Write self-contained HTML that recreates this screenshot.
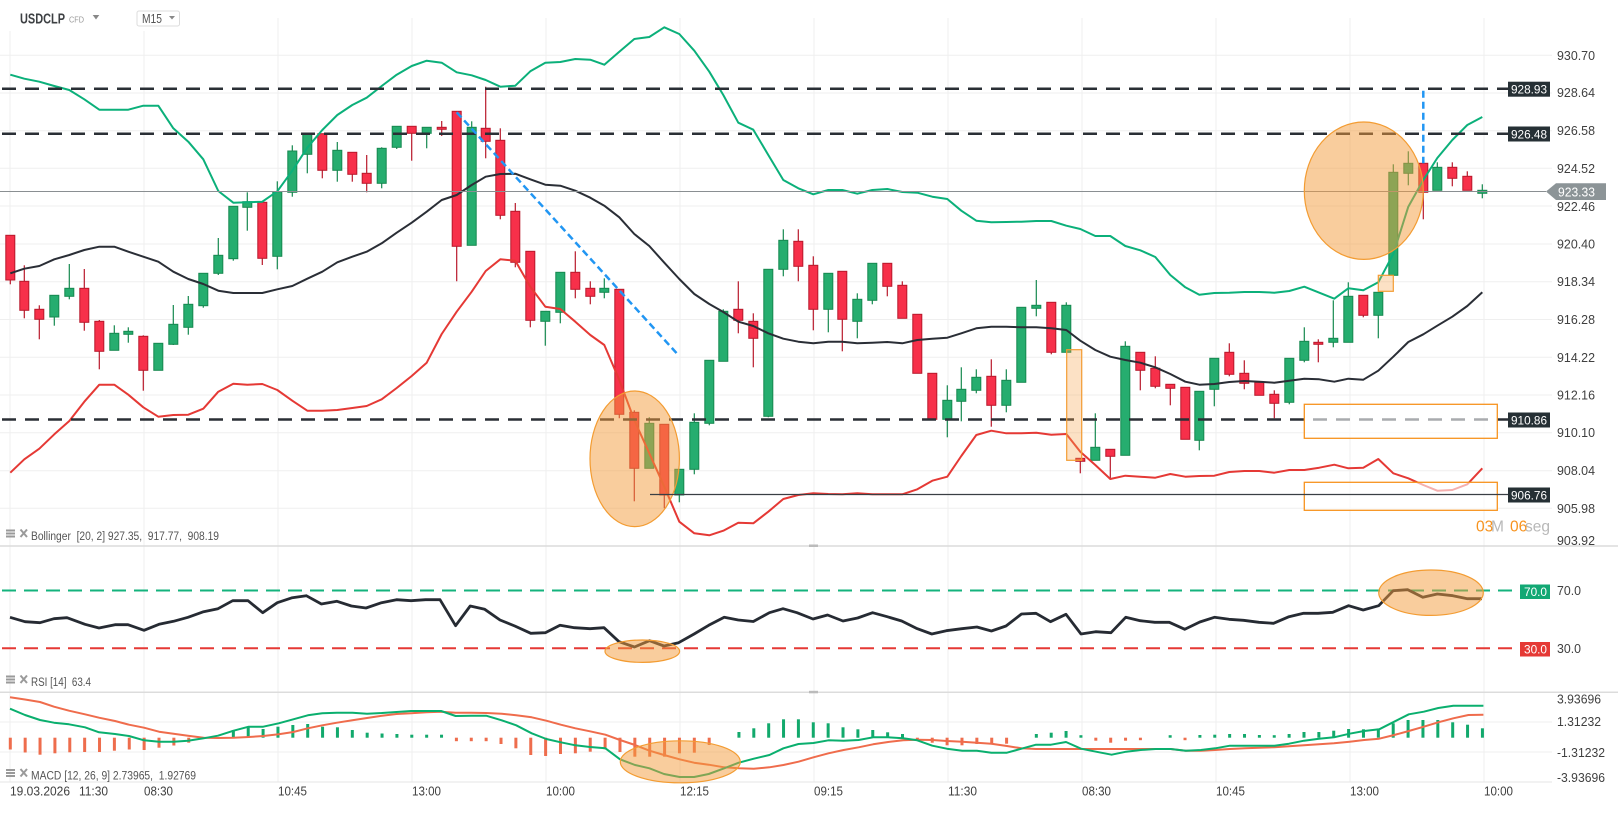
<!DOCTYPE html>
<html><head><meta charset="utf-8"><style>
html,body{margin:0;padding:0;background:#fff;overflow:hidden;}
svg{display:block;font-family:"Liberation Sans",Arial,sans-serif;}
.ax{font-size:12.5px;fill:#404040;}
.g rect{fill:#26ad6f;stroke:#15884f;stroke-width:1;}
.g line{stroke:#15884f;stroke-width:1.2;}
.r rect{fill:#f7304a;stroke:#b8182b;stroke-width:1;}
.r line{stroke:#b8182b;stroke-width:1.2;}
.hg rect{fill:#12a96c;}
.hr rect{fill:#ee6d4d;}
</style></head><body>
<svg width="1618" height="816" viewBox="0 0 1618 816" xmlns="http://www.w3.org/2000/svg">
<rect width="1618" height="816" fill="#fff"/>
<!-- vertical gridlines -->
<g stroke="#efefef" stroke-width="1">
<line x1="10" y1="18" x2="10" y2="782"/><line x1="144" y1="18" x2="144" y2="782"/><line x1="278" y1="18" x2="278" y2="782"/><line x1="412" y1="18" x2="412" y2="782"/><line x1="546" y1="18" x2="546" y2="782"/><line x1="680" y1="18" x2="680" y2="782"/><line x1="814" y1="18" x2="814" y2="782"/><line x1="948" y1="18" x2="948" y2="782"/><line x1="1082" y1="18" x2="1082" y2="782"/><line x1="1216" y1="18" x2="1216" y2="782"/><line x1="1350" y1="18" x2="1350" y2="782"/><line x1="1484" y1="18" x2="1484" y2="782"/>
</g>
<!-- horizontal gridlines -->
<g stroke="#efefef" stroke-width="1">
<line x1="0" y1="55.3" x2="1552" y2="55.3"/><line x1="0" y1="93" x2="1552" y2="93"/><line x1="0" y1="130.7" x2="1552" y2="130.7"/><line x1="0" y1="168.3" x2="1552" y2="168.3"/><line x1="0" y1="206" x2="1552" y2="206"/><line x1="0" y1="244" x2="1552" y2="244"/><line x1="0" y1="281.7" x2="1552" y2="281.7"/><line x1="0" y1="319.5" x2="1552" y2="319.5"/><line x1="0" y1="357.3" x2="1552" y2="357.3"/><line x1="0" y1="395" x2="1552" y2="395"/><line x1="0" y1="432.7" x2="1552" y2="432.7"/><line x1="0" y1="470.7" x2="1552" y2="470.7"/><line x1="0" y1="508.3" x2="1552" y2="508.3"/>
<line x1="0" y1="722" x2="1552" y2="722"/><line x1="0" y1="752" x2="1552" y2="752"/>
</g>
<!-- panel separators -->
<line x1="0" y1="546" x2="1618" y2="546" stroke="#dcdcdc" stroke-width="1.5"/>
<line x1="0" y1="692.3" x2="1618" y2="692.3" stroke="#dcdcdc" stroke-width="1.5"/>
<line x1="0" y1="782" x2="1552" y2="782" stroke="#e6e6e6" stroke-width="1"/>
<rect x="809" y="544.5" width="9" height="2.5" fill="#bbb"/>
<rect x="809" y="690.8" width="9" height="2.5" fill="#bbb"/>

<!-- header -->
<rect x="0" y="0" width="195" height="31" fill="#fff"/>
<text x="20" y="23.5" font-size="14.5" font-weight="bold" fill="#3d4043" textLength="45" lengthAdjust="spacingAndGlyphs">USDCLP</text>
<text x="69" y="22.5" font-size="8" fill="#999" textLength="15" lengthAdjust="spacingAndGlyphs">CFD</text>
<polygon points="92.7,15 99.3,15 96,19.5" fill="#888"/>
<rect x="137" y="11" width="42.5" height="15" rx="2" fill="#fff" stroke="#dcdcdc"/>
<text x="142" y="23" font-size="12.5" fill="#555" textLength="20" lengthAdjust="spacingAndGlyphs">M15</text>
<polygon points="169,16 175,16 172,19.5" fill="#888"/>

<!-- candles -->
<g class="r">
<line x1="10.3" y1="235.3" x2="10.3" y2="284.3"/><rect x="5.8" y="235.3" width="9" height="44.7"/>
<line x1="24.3" y1="265.3" x2="24.3" y2="318.3"/><rect x="19.8" y="281.3" width="9" height="29"/>
<line x1="39.3" y1="305.3" x2="39.3" y2="339.3"/><rect x="34.8" y="309.3" width="9" height="10"/>
<line x1="84.3" y1="269" x2="84.3" y2="330.7"/><rect x="79.8" y="288.3" width="9" height="34"/>
<line x1="99.3" y1="320" x2="99.3" y2="369.3"/><rect x="94.8" y="321.3" width="9" height="30"/>
<line x1="143.3" y1="335.3" x2="143.3" y2="390.7"/><rect x="138.8" y="336.3" width="9" height="34"/>
<line x1="262.3" y1="202.3" x2="262.3" y2="265"/><rect x="257.8" y="202.3" width="9" height="56"/>
<line x1="322.3" y1="133.7" x2="322.3" y2="178.3"/><rect x="317.8" y="133.7" width="9" height="36.6"/>
<line x1="352.3" y1="152.3" x2="352.3" y2="181.7"/><rect x="347.8" y="152.3" width="9" height="22"/>
<line x1="366.7" y1="155" x2="366.7" y2="192.3"/><rect x="362.2" y="173.3" width="9" height="10"/>
<line x1="411.7" y1="126.3" x2="411.7" y2="160.7"/><rect x="407.2" y="126.3" width="9" height="7"/>
<line x1="441.7" y1="121" x2="441.7" y2="136"/><rect x="437.2" y="127.3" width="9" height="2"/>
<line x1="456.7" y1="111.3" x2="456.7" y2="281.3"/><rect x="452.2" y="111.3" width="9" height="135"/>
<line x1="485.7" y1="86.7" x2="485.7" y2="158.3"/><rect x="481.2" y="128.3" width="9" height="13"/>
<line x1="500.3" y1="128.3" x2="500.3" y2="219.3"/><rect x="495.8" y="140.3" width="9" height="75"/>
<line x1="515.3" y1="203" x2="515.3" y2="267.3"/><rect x="510.8" y="211.3" width="9" height="51"/>
<line x1="530.3" y1="251.3" x2="530.3" y2="327.3"/><rect x="525.8" y="251.3" width="9" height="69"/>
<line x1="575.3" y1="251.3" x2="575.3" y2="298.3"/><rect x="570.8" y="272.3" width="9" height="17"/>
<line x1="590.3" y1="281.3" x2="590.3" y2="304.3"/><rect x="585.8" y="288.3" width="9" height="8"/>
<line x1="619.3" y1="289.3" x2="619.3" y2="418.3"/><rect x="614.8" y="289.3" width="9" height="125"/>
<line x1="634.3" y1="410.3" x2="634.3" y2="501.3"/><rect x="629.8" y="412.3" width="9" height="56"/>
<line x1="664.3" y1="424.3" x2="664.3" y2="508.3"/><rect x="659.8" y="424.3" width="9" height="70.7"/>
<line x1="738.3" y1="281.3" x2="738.3" y2="333.3"/><rect x="733.8" y="309.3" width="9" height="11"/>
<line x1="753.3" y1="313.3" x2="753.3" y2="367.3"/><rect x="748.8" y="321.3" width="9" height="17"/>
<line x1="798.3" y1="229.3" x2="798.3" y2="281.3"/><rect x="793.8" y="241.3" width="9" height="25"/>
<line x1="813.3" y1="256.3" x2="813.3" y2="330.3"/><rect x="808.8" y="265.3" width="9" height="44"/>
<line x1="842.3" y1="271.3" x2="842.3" y2="351.3"/><rect x="837.8" y="271.3" width="9" height="48"/>
<line x1="887.3" y1="263.3" x2="887.3" y2="296.3"/><rect x="882.8" y="263.3" width="9" height="23"/>
<line x1="902.3" y1="281.3" x2="902.3" y2="318.3"/><rect x="897.8" y="285.3" width="9" height="33"/>
<line x1="917.3" y1="314.3" x2="917.3" y2="373.3"/><rect x="912.8" y="314.3" width="9" height="59"/>
<line x1="932.3" y1="373.3" x2="932.3" y2="419.3"/><rect x="927.8" y="373.3" width="9" height="46"/>
<line x1="991.3" y1="359.3" x2="991.3" y2="426.7"/><rect x="986.8" y="376.3" width="9" height="29"/>
<line x1="1051.3" y1="302.3" x2="1051.3" y2="354.3"/><rect x="1046.8" y="302.3" width="9" height="50"/>
<line x1="1080.3" y1="458.3" x2="1080.3" y2="473.3"/><rect x="1075.8" y="458.3" width="9" height="3"/>
<line x1="1110.3" y1="449.3" x2="1110.3" y2="478.3"/><rect x="1105.8" y="449.3" width="9" height="7"/>
<line x1="1140.3" y1="352.3" x2="1140.3" y2="390.3"/><rect x="1135.8" y="352.3" width="9" height="18"/>
<line x1="1155.3" y1="356.3" x2="1155.3" y2="388.3"/><rect x="1150.8" y="368.3" width="9" height="18"/>
<line x1="1170.3" y1="384.3" x2="1170.3" y2="405.3"/><rect x="1165.8" y="384.3" width="9" height="4"/>
<line x1="1185.3" y1="387.3" x2="1185.3" y2="439.3"/><rect x="1180.8" y="387.3" width="9" height="52"/>
<line x1="1229.3" y1="343.3" x2="1229.3" y2="376.3"/><rect x="1224.8" y="352.3" width="9" height="22"/>
<line x1="1244.3" y1="360.3" x2="1244.3" y2="389.3"/><rect x="1239.8" y="373.3" width="9" height="10"/>
<line x1="1259.3" y1="382.3" x2="1259.3" y2="395.3"/><rect x="1254.8" y="382.3" width="9" height="13"/>
<line x1="1274.3" y1="390.3" x2="1274.3" y2="418.3"/><rect x="1269.8" y="394.3" width="9" height="9"/>
<line x1="1318.3" y1="339.3" x2="1318.3" y2="362.3"/><rect x="1313.8" y="342.3" width="9" height="2"/>
<line x1="1363.3" y1="295.3" x2="1363.3" y2="317.3"/><rect x="1358.8" y="295.3" width="9" height="20"/>
<line x1="1423.3" y1="163.3" x2="1423.3" y2="219.3"/><rect x="1418.8" y="163.3" width="9" height="29"/>
<line x1="1452.3" y1="162.3" x2="1452.3" y2="186.3"/><rect x="1447.8" y="167.3" width="9" height="11"/>
<line x1="1467.3" y1="171.3" x2="1467.3" y2="190.3"/><rect x="1462.8" y="176.3" width="9" height="14"/>
</g>
<g class="g">
<line x1="54.3" y1="295.3" x2="54.3" y2="325.7"/><rect x="49.8" y="295.3" width="9" height="21.7"/>
<line x1="69.3" y1="264" x2="69.3" y2="299.3"/><rect x="64.8" y="288.3" width="9" height="8"/>
<line x1="114.3" y1="325.3" x2="114.3" y2="350.3"/><rect x="109.8" y="333.3" width="9" height="17"/>
<line x1="128.3" y1="327.3" x2="128.3" y2="342.7"/><rect x="123.8" y="331.3" width="9" height="3"/>
<line x1="158.3" y1="343.3" x2="158.3" y2="370.3"/><rect x="153.8" y="343.3" width="9" height="27"/>
<line x1="173.3" y1="305" x2="173.3" y2="345"/><rect x="168.8" y="324.3" width="9" height="20"/>
<line x1="188.3" y1="296" x2="188.3" y2="334.7"/><rect x="183.8" y="304.3" width="9" height="23"/>
<line x1="203.3" y1="273.3" x2="203.3" y2="307.7"/><rect x="198.8" y="273.3" width="9" height="32.4"/>
<line x1="218.3" y1="238" x2="218.3" y2="275"/><rect x="213.8" y="255.3" width="9" height="18"/>
<line x1="233.3" y1="206.3" x2="233.3" y2="260.7"/><rect x="228.8" y="206.3" width="9" height="52.4"/>
<line x1="247.3" y1="192.3" x2="247.3" y2="230.7"/><rect x="242.8" y="201.7" width="9" height="5.6"/>
<line x1="277.3" y1="181.3" x2="277.3" y2="269.3"/><rect x="272.8" y="191.7" width="9" height="64.6"/>
<line x1="292.3" y1="145.3" x2="292.3" y2="196.7"/><rect x="287.8" y="151" width="9" height="41.3"/>
<line x1="307.3" y1="133.7" x2="307.3" y2="173.3"/><rect x="302.8" y="133.7" width="9" height="20.6"/>
<line x1="337.3" y1="142" x2="337.3" y2="181.7"/><rect x="332.8" y="150.3" width="9" height="20"/>
<line x1="381.7" y1="147.3" x2="381.7" y2="188.3"/><rect x="377.2" y="148.3" width="9" height="35"/>
<line x1="396.7" y1="126.3" x2="396.7" y2="149"/><rect x="392.2" y="126.3" width="9" height="21"/>
<line x1="426.7" y1="127.3" x2="426.7" y2="148.3"/><rect x="422.2" y="127.3" width="9" height="6"/>
<line x1="471.7" y1="121.3" x2="471.7" y2="245.3"/><rect x="467.2" y="127.3" width="9" height="118"/>
<line x1="545.3" y1="311.3" x2="545.3" y2="345.7"/><rect x="540.8" y="311.3" width="9" height="10"/>
<line x1="560.3" y1="272.3" x2="560.3" y2="323.3"/><rect x="555.8" y="272.3" width="9" height="40"/>
<line x1="604.3" y1="278.3" x2="604.3" y2="298.3"/><rect x="599.8" y="288.3" width="9" height="4"/>
<line x1="649.3" y1="417.3" x2="649.3" y2="468.3"/><rect x="644.8" y="423.3" width="9" height="45"/>
<line x1="679.3" y1="469.3" x2="679.3" y2="502.3"/><rect x="674.8" y="469.3" width="9" height="25.7"/>
<line x1="694.3" y1="413.3" x2="694.3" y2="474.3"/><rect x="689.8" y="422.3" width="9" height="47"/>
<line x1="709.3" y1="360.3" x2="709.3" y2="425.3"/><rect x="704.8" y="360.3" width="9" height="63"/>
<line x1="723.3" y1="309.3" x2="723.3" y2="361.3"/><rect x="718.8" y="311.3" width="9" height="50"/>
<line x1="768.3" y1="269.3" x2="768.3" y2="417.3"/><rect x="763.8" y="269.3" width="9" height="147"/>
<line x1="783.3" y1="229.3" x2="783.3" y2="276.3"/><rect x="778.8" y="240.3" width="9" height="29"/>
<line x1="828.3" y1="273.3" x2="828.3" y2="332.3"/><rect x="823.8" y="273.3" width="9" height="36"/>
<line x1="857.3" y1="293.3" x2="857.3" y2="338.3"/><rect x="852.8" y="299.3" width="9" height="22"/>
<line x1="872.3" y1="263.3" x2="872.3" y2="304.3"/><rect x="867.8" y="263.3" width="9" height="37"/>
<line x1="947.3" y1="385.3" x2="947.3" y2="437.3"/><rect x="942.8" y="400.3" width="9" height="19"/>
<line x1="961.3" y1="367.3" x2="961.3" y2="421.3"/><rect x="956.8" y="389.3" width="9" height="12"/>
<line x1="976.3" y1="369.3" x2="976.3" y2="393.3"/><rect x="971.8" y="377.3" width="9" height="13"/>
<line x1="1006.3" y1="369.3" x2="1006.3" y2="412.3"/><rect x="1001.8" y="380.3" width="9" height="25"/>
<line x1="1021.3" y1="307.3" x2="1021.3" y2="382.3"/><rect x="1016.8" y="307.3" width="9" height="75"/>
<line x1="1036.3" y1="280" x2="1036.3" y2="316.3"/><rect x="1031.8" y="305.3" width="9" height="3"/>
<line x1="1066.3" y1="302.3" x2="1066.3" y2="352.3"/><rect x="1061.8" y="305.3" width="9" height="47"/>
<line x1="1095.3" y1="413.3" x2="1095.3" y2="460.3"/><rect x="1090.8" y="447.3" width="9" height="13"/>
<line x1="1125.3" y1="341.3" x2="1125.3" y2="455.3"/><rect x="1120.8" y="346.3" width="9" height="109"/>
<line x1="1199.3" y1="391.3" x2="1199.3" y2="450.3"/><rect x="1194.8" y="391.3" width="9" height="49"/>
<line x1="1214.3" y1="358.3" x2="1214.3" y2="406.3"/><rect x="1209.8" y="358.3" width="9" height="31"/>
<line x1="1289.3" y1="358.3" x2="1289.3" y2="404.3"/><rect x="1284.8" y="358.3" width="9" height="44"/>
<line x1="1304.3" y1="327.3" x2="1304.3" y2="362.3"/><rect x="1299.8" y="341.3" width="9" height="19"/>
<line x1="1333.3" y1="300.3" x2="1333.3" y2="347.3"/><rect x="1328.8" y="338.3" width="9" height="4"/>
<line x1="1348.3" y1="282.3" x2="1348.3" y2="342.3"/><rect x="1343.8" y="296.3" width="9" height="46"/>
<line x1="1378.3" y1="292.3" x2="1378.3" y2="338.3"/><rect x="1373.8" y="292.3" width="9" height="23"/>
<line x1="1393.3" y1="164.3" x2="1393.3" y2="275.3"/><rect x="1388.8" y="172.3" width="9" height="103"/>
<line x1="1408.3" y1="151.3" x2="1408.3" y2="185.3"/><rect x="1403.8" y="163.3" width="9" height="10"/>
<line x1="1437.3" y1="162.3" x2="1437.3" y2="190.3"/><rect x="1432.8" y="167.3" width="9" height="23"/>
<line x1="1482.3" y1="184.3" x2="1482.3" y2="198.3"/><rect x="1477.8" y="190.3" width="9" height="3"/>
</g>

<!-- Bollinger bands -->
<polyline fill="none" stroke="#0bb07a" stroke-width="2" stroke-linejoin="round" points="10.3,74.7 24.3,78.7 39.3,81.7 54.3,86 69.3,90 84.3,99.3 99.3,109.7 114.3,109.7 128.3,109.7 143.3,105.7 158.3,105.7 173.3,128.3 188.3,141.7 203.3,159.3 218.3,191 233.3,202.7 247.3,202.3 262.3,201.7 277.3,191.3 292.3,170.7 307.3,147.7 322.3,130 337.3,115 352.3,105 366.7,97.7 381.7,86 396.7,74.7 411.7,66 426.7,60.7 441.7,62.7 456.7,72.3 471.7,75.3 485.7,80 500.3,86.7 515.3,85.7 530.3,71.3 545.3,62.7 560.3,62 575.3,59 590.3,59.7 604.3,64.7 619.3,51.7 634.3,39 649.3,37 664.3,27.3 679.3,34 694.3,50.7 709.3,71.7 723.3,95 738.3,122.7 753.3,129.7 768.3,155 783.3,180 798.3,188.3 813.3,194.3 828.3,190 842.3,190 857.3,193.7 872.3,190 887.3,189 902.3,192 917.3,192.7 932.3,196.7 947.3,199 961.3,210.7 976.3,220.7 991.3,222.3 1006.3,222 1021.3,221.7 1036.3,221 1051.3,221 1066.3,225.7 1080.3,229 1095.3,236 1110.3,236 1125.3,246 1140.3,250.3 1155.3,257 1170.3,275 1185.3,287.3 1199.3,294.7 1214.3,293 1229.3,292.7 1244.3,292 1259.3,292 1274.3,292.7 1289.3,291 1304.3,286.7 1319.3,292.7 1334.3,298.7 1348.3,288.3 1363.3,290.3 1378.3,282.3 1393.3,254 1408.3,206.7 1423.3,180 1437.3,158 1452.3,140 1467.3,125 1482.3,117"/>
<polyline fill="none" stroke="#2a2e36" stroke-width="2" stroke-linejoin="round" points="10.3,273.3 24.3,268.7 39.3,266 54.3,259.3 69.3,255 84.3,250 99.3,246.7 114.3,246.7 128.3,251.7 143.3,256.7 158.3,261.7 173.3,271.7 188.3,279 203.3,284 218.3,290.7 233.3,293 247.3,293 262.3,293 277.3,289.3 292.3,286 307.3,278.7 322.3,271.7 337.3,262.3 352.3,256.7 366.7,251.7 381.7,243.3 396.7,232.7 411.7,222.7 426.7,211.7 441.7,200 456.7,195 471.7,185 485.7,176.7 500.3,174 515.3,173.7 530.3,179.3 545.3,184.7 560.3,185.7 575.3,190.7 590.3,197.7 604.3,205.7 619.3,217.3 634.3,234 649.3,246 664.3,262.7 679.3,279 694.3,294 709.3,304 723.3,312 738.3,321.7 753.3,326 768.3,333.3 783.3,338.7 798.3,341.7 813.3,343.3 828.3,341.7 842.3,341.7 857.3,343.3 872.3,342.7 887.3,342 902.3,343.3 917.3,340 932.3,338.7 947.3,337.7 961.3,333.3 976.3,328.3 991.3,326.7 1006.3,326.7 1021.3,327.3 1036.3,327.3 1051.3,328.3 1066.3,330 1080.3,340.7 1095.3,350 1110.3,356.7 1125.3,360 1140.3,362.7 1155.3,367.3 1170.3,374 1185.3,381.7 1199.3,384.7 1214.3,384 1229.3,382 1244.3,381 1259.3,381.7 1274.3,382.7 1289.3,380.7 1304.3,378.7 1319.3,379.3 1334.3,381.7 1348.3,378.7 1363.3,379.7 1378.3,370.7 1393.3,356.7 1408.3,342 1423.3,334.3 1437.3,325.7 1452.3,316.7 1467.3,306 1482.3,292.3"/>
<polyline fill="none" stroke="#e53935" stroke-width="2" stroke-linejoin="round" points="10.3,472.7 24.3,459.3 39.3,448.7 54.3,434.3 69.3,421 84.3,401.7 99.3,384.7 114.3,384.7 128.3,394.7 143.3,407.3 158.3,416.7 173.3,415 188.3,414.7 203.3,408.7 218.3,391.7 233.3,383.7 247.3,384.7 262.3,384 277.3,390 292.3,400.7 307.3,410.7 322.3,410.7 337.3,410 352.3,408 366.7,406 381.7,399.3 396.7,388 411.7,376 426.7,362.7 441.7,334 456.7,311.7 471.7,291.7 485.7,271 500.3,259.3 515.3,260.7 530.3,286.7 545.3,306.7 560.3,309 575.3,321.7 590.3,335 604.3,345 619.3,380 634.3,420 649.3,453.3 664.3,486.7 679.3,521.7 694.3,533.3 709.3,535.3 723.3,530.7 738.3,522.7 753.3,523.3 768.3,511.7 783.3,499 798.3,495 813.3,493.3 828.3,494 842.3,494.3 857.3,493.3 872.3,494.3 887.3,494.3 902.3,494.3 917.3,489.3 932.3,480.7 947.3,476.7 961.3,456 976.3,435 991.3,430.7 1006.3,433.3 1021.3,433.3 1036.3,432.7 1051.3,434.7 1066.3,434 1080.3,451.7 1095.3,465 1110.3,479 1125.3,475.7 1140.3,476.7 1155.3,477.7 1170.3,474 1185.3,476.7 1199.3,476 1214.3,475.7 1229.3,472 1244.3,471 1259.3,471 1274.3,472.7 1289.3,470 1304.3,470 1319.3,467.7 1334.3,464.7 1348.3,468.3 1363.3,467.7 1378.3,459 1393.3,473.3 1408.3,478.3 1423.3,485 1437.3,490.7 1452.3,490 1467.3,484.3 1482.3,468.3"/>

<!-- horizontal level lines -->
<g stroke="#2a2f35" stroke-width="2.5" stroke-dasharray="14 9" fill="none">
<line x1="2" y1="88.7" x2="1508" y2="88.7"/>
<line x1="2" y1="133.7" x2="1508" y2="133.7"/>
<line x1="2" y1="419.5" x2="1508" y2="419.5"/>
</g>
<line x1="0" y1="191.5" x2="1546" y2="191.5" stroke="#8a8f92" stroke-width="1"/>

<!-- annotations -->
<ellipse cx="634.7" cy="458.8" rx="44.7" ry="67.8" fill="rgba(243,156,60,0.5)" stroke="#f39c32" stroke-width="1.2"/>
<ellipse cx="1363.8" cy="190.7" rx="59.5" ry="68.7" fill="rgba(243,156,60,0.5)" stroke="#f39c32" stroke-width="1.2"/>
<rect x="1066.7" y="349.7" width="15" height="110.6" fill="rgba(245,165,80,0.33)" stroke="#f39c32" stroke-width="1.2"/>
<rect x="1378.3" y="275.3" width="15" height="16" fill="rgba(245,165,80,0.33)" stroke="#f39c32" stroke-width="1.2"/>
<rect x="1304.3" y="404.3" width="193" height="34" fill="rgba(255,255,255,0.6)" stroke="#f7931e" stroke-width="1.3"/>
<rect x="1304.3" y="482.3" width="193" height="28" fill="rgba(255,255,255,0.6)" stroke="#f7931e" stroke-width="1.3"/>
<line x1="650" y1="494.5" x2="1508" y2="494.5" stroke="#3a3f44" stroke-width="1.2"/>
<line x1="456.7" y1="112.3" x2="678.3" y2="355" stroke="#2196f3" stroke-width="2.5" stroke-dasharray="7 4"/>
<line x1="1423.3" y1="90.7" x2="1423.3" y2="163.3" stroke="#2196f3" stroke-width="2.5" stroke-dasharray="7 4"/>

<!-- RSI panel -->
<line x1="2" y1="590.5" x2="1520" y2="590.5" stroke="#14b37d" stroke-width="2" stroke-dasharray="14 8"/>
<line x1="2" y1="648.3" x2="1520" y2="648.3" stroke="#e53935" stroke-width="2" stroke-dasharray="14 8"/>
<polyline fill="none" stroke="#262b33" stroke-width="2.8" stroke-linejoin="round" points="10,617.3 25,621.7 40,622.7 54,618.7 67,617.7 85,624.3 99,628 115,624.7 128,624.7 144,630.3 159,624.3 173.5,621.3 188,617.3 203.6,611.7 218,608.7 232.7,600.7 248,600.7 262.7,612.7 277.3,602.7 292.3,597.7 306.3,595.7 321.4,604 337,601.3 351.4,606 366,608 381.5,602.7 396.5,599.7 411,600.7 425.6,599.7 440,599.7 455.6,625.7 470.2,606 484.7,609.3 500,620 514.8,626 530.8,633.3 545.3,632.7 560,625.3 574.4,627.7 590,628.7 604,627.7 619,641.7 634.5,647 649.5,640.7 664,646 678.6,642.7 694.1,634 708.7,625.3 724.2,617.3 738.3,620 753.3,621.5 769.4,612.7 783,608.7 797,612.7 813,619 827.6,615 843,621 857.6,618 872.6,612.7 887.2,616.7 901.7,621 916.3,628.3 931.8,634 946.3,630.7 961.8,628.7 976.9,627 991.4,631 1006,626 1021.5,614 1036,613.3 1050.5,621.7 1066,614.3 1081,634 1095.6,631.7 1111,632.7 1125.7,617.3 1140.2,620.7 1154.8,622.3 1169.3,622.3 1184.8,629.3 1199.8,622 1214.4,617.3 1229,619.3 1243.5,620.3 1259,622.3 1273.5,623.3 1289,616.7 1303.6,613.3 1318,613.3 1332.7,612.3 1348.6,605.7 1363.2,610 1378.7,605.7 1393.2,590.7 1407.8,589.7 1422.8,597.3 1437.3,594 1452.9,595.7 1467.4,598.7 1482,598.7"/>
<ellipse cx="642.3" cy="651.2" rx="37.3" ry="11.2" fill="rgba(243,156,60,0.5)" stroke="#f39c32" stroke-width="1.2"/>
<ellipse cx="1431" cy="592.7" rx="52.3" ry="22.7" fill="rgba(243,156,60,0.5)" stroke="#f39c32" stroke-width="1.2"/>

<!-- MACD histogram -->
<g class="hr">
<rect x="8.8" y="737.7" width="3" height="11.8"/><rect x="23.67" y="737.7" width="3" height="14.8"/><rect x="38.54" y="737.7" width="3" height="17"/><rect x="53.41" y="737.7" width="3" height="15.6"/><rect x="68.28" y="737.7" width="3" height="14.6"/><rect x="83.15" y="737.7" width="3" height="14.3"/><rect x="98.02" y="737.7" width="3" height="14.3"/><rect x="112.89" y="737.7" width="3" height="13"/><rect x="127.76" y="737.7" width="3" height="11.8"/><rect x="142.63" y="737.7" width="3" height="12.3"/><rect x="157.5" y="737.7" width="3" height="10"/><rect x="172.37" y="737.7" width="3" height="7.8"/><rect x="187.24" y="737.7" width="3" height="5"/>
<rect x="454.9" y="737.7" width="3" height="3.5"/><rect x="469.77" y="737.7" width="3" height="3.5"/><rect x="484.64" y="737.7" width="3" height="3.5"/>
<rect x="499.51" y="737.7" width="3" height="6.3"/><rect x="514.38" y="737.7" width="3" height="10.6"/><rect x="529.25" y="737.7" width="3" height="17.3"/><rect x="544.12" y="737.7" width="3" height="18.3"/><rect x="558.99" y="737.7" width="3" height="16.3"/><rect x="573.86" y="737.7" width="3" height="15.6"/><rect x="588.73" y="737.7" width="3" height="14"/><rect x="603.6" y="737.7" width="3" height="11.6"/><rect x="618.47" y="737.7" width="3" height="14.3"/><rect x="633.34" y="737.7" width="3" height="19"/><rect x="648.21" y="737.7" width="3" height="19"/><rect x="663.08" y="737.7" width="3" height="19"/><rect x="677.95" y="737.7" width="3" height="15.6"/><rect x="692.82" y="737.7" width="3" height="15"/><rect x="707.69" y="737.7" width="3" height="7.3"/>
<rect x="915.87" y="737.7" width="3" height="3"/><rect x="930.74" y="737.7" width="3" height="5"/><rect x="945.61" y="737.7" width="3" height="7.6"/><rect x="960.48" y="737.7" width="3" height="7.6"/><rect x="975.35" y="737.7" width="3" height="6.3"/><rect x="990.22" y="737.7" width="3" height="6"/><rect x="1005.09" y="737.7" width="3" height="6"/>
<rect x="1094.31" y="737.7" width="3" height="3"/><rect x="1109.18" y="737.7" width="3" height="5"/><rect x="1124.05" y="737.7" width="3" height="3"/><rect x="1138.92" y="737.7" width="3" height="2.5"/><rect x="1183.53" y="737.7" width="3" height="2.5"/>
</g>
<g class="hg">
<rect x="231.85" y="730" width="3" height="7.7"/><rect x="246.72" y="726.7" width="3" height="11"/><rect x="261.59" y="729" width="3" height="8.7"/><rect x="276.46" y="726.7" width="3" height="11"/><rect x="291.33" y="725" width="3" height="12.7"/><rect x="306.2" y="724" width="3" height="13.7"/><rect x="321.07" y="726.7" width="3" height="11"/><rect x="335.94" y="727.3" width="3" height="10.4"/><rect x="350.81" y="730" width="3" height="7.7"/><rect x="365.68" y="732.7" width="3" height="5"/><rect x="380.55" y="733.5" width="3" height="4.2"/><rect x="395.42" y="734" width="3" height="3.7"/><rect x="410.29" y="734.7" width="3" height="3"/><rect x="425.16" y="734.7" width="3" height="3"/><rect x="440.03" y="734.7" width="3" height="3"/>
<rect x="737.43" y="732" width="3" height="5.7"/><rect x="752.3" y="728.3" width="3" height="9.4"/><rect x="767.17" y="723.3" width="3" height="14.4"/><rect x="782.04" y="719.3" width="3" height="18.4"/><rect x="796.91" y="719.3" width="3" height="18.4"/><rect x="811.78" y="722.3" width="3" height="15.4"/><rect x="826.65" y="723.3" width="3" height="14.4"/><rect x="841.52" y="727.3" width="3" height="10.4"/><rect x="856.39" y="729.3" width="3" height="8.4"/><rect x="871.26" y="730" width="3" height="7.7"/><rect x="886.13" y="732.3" width="3" height="5.4"/><rect x="901" y="734" width="3" height="3.7"/>
<rect x="1034.83" y="734" width="3" height="3.7"/><rect x="1049.7" y="732.7" width="3" height="5"/><rect x="1064.57" y="731" width="3" height="6.7"/><rect x="1079.44" y="735.2" width="3" height="2.5"/><rect x="1168.66" y="735.2" width="3" height="2.5"/>
<rect x="1198.4" y="735" width="3" height="2.7"/><rect x="1213.27" y="734.7" width="3" height="3"/><rect x="1228.14" y="734" width="3" height="3.7"/><rect x="1243.01" y="734" width="3" height="3.7"/><rect x="1257.88" y="735" width="3" height="2.7"/><rect x="1272.75" y="735.2" width="3" height="2.5"/><rect x="1287.62" y="734" width="3" height="3.7"/><rect x="1302.49" y="732" width="3" height="5.7"/><rect x="1317.36" y="732" width="3" height="5.7"/><rect x="1332.23" y="730.7" width="3" height="7"/><rect x="1347.1" y="729" width="3" height="8.7"/><rect x="1361.97" y="729.3" width="3" height="8.4"/><rect x="1376.84" y="728.7" width="3" height="9"/><rect x="1391.71" y="723.3" width="3" height="14.4"/><rect x="1406.58" y="720" width="3" height="17.7"/><rect x="1421.45" y="720" width="3" height="17.7"/><rect x="1436.32" y="720" width="3" height="17.7"/><rect x="1451.19" y="722.3" width="3" height="15.4"/><rect x="1466.06" y="724.7" width="3" height="13"/><rect x="1480.93" y="728.3" width="3" height="9.4"/>
</g>
<!-- MACD & signal -->
<polyline fill="none" stroke="#ef6c4c" stroke-width="2" stroke-linejoin="round" points="10,697.3 25,699.5 40,702 54,706.7 69,710.7 85,714.3 99,717.7 115,721 129,724.7 144,727.7 159,731.7 173.5,733.7 188,735.7 203.6,737.7 218,738 233.6,737.7 248.7,737 263.2,736 278.7,734.3 293.3,732 307.8,728.3 322.3,725.3 337,722.7 352.4,720.3 367,718 382,715.7 396.5,714 411,713.3 426.6,712.3 441.1,711.7 455.6,712.7 471.2,712.7 486.2,713 501.7,713.7 516.2,715.3 531.7,717.3 546.3,720.7 560.8,724.7 575.4,728.3 590,731.3 605.4,734.7 620,740 635,745 649.5,750.7 664,755 679.6,759.3 694.1,762.7 708.7,764.7 724.2,767.3 738.7,768.3 753.8,768.7 769.4,767.3 783.4,765 798.5,761.7 813.5,757.3 828.5,753.3 843.6,750 858.6,747.3 873.1,744.3 888.1,742 903.2,740.3 917.2,739.7 932.3,740 946.8,741 962.3,741.7 976.9,742.7 991.4,743.7 1006.9,746 1021.5,748.3 1036,749 1051,749 1170.7,749 1185.8,750.7 1200.8,750.7 1215.3,750 1229.9,749 1244.9,748.3 1259.5,747.7 1274.5,747.3 1289,746.3 1304,745.3 1319,744.3 1334,743.3 1349.6,741.7 1364.2,740 1379.2,738.7 1394.2,735 1408.8,731 1423.8,726.7 1438.3,722.3 1453.3,718.3 1468.4,715 1483.4,714.7"/>
<polyline fill="none" stroke="#0aaf6e" stroke-width="2" stroke-linejoin="round" points="10,708.7 25,715 40,720 54,722.7 69,724.3 85,727.3 99,732.3 115,734 129,736 144,740.3 159,741.7 173.5,741.7 188,740.7 203.6,738.3 218,735.7 233.6,730.7 248.7,726.7 263.2,726.7 278.7,723.3 293.3,719.3 307.8,715.3 322.3,713.3 336.9,712.7 352.4,712.7 367,713.7 382,713 396.5,712 411,711 426.6,711 441.1,711 455.6,716 471.2,715.7 486.2,715.7 501.7,720.3 516.2,725.3 531.7,733.3 546.3,739 560.8,742.3 575.4,745.3 590,747 605.4,748.3 620,759.3 635,765 649.5,768.3 664,774 679.6,777 694.1,777 708.7,774 724.2,768.3 738.7,762.7 753.8,758.7 769.4,755 783.4,748.3 798.5,744 813.5,743 828.5,740.3 843.6,740.7 858.6,740 873.1,737.3 888.1,737.3 903.2,738.3 917.2,740.3 932.3,745.7 946.8,748.7 962.3,750.7 976.9,750.7 991.4,752.7 1006.9,752.7 1021.5,748.7 1036,744.7 1051,744.7 1066,742 1081,748.7 1096,751.7 1111.6,754.7 1126.2,751.7 1140.7,750 1155.7,749 1170.7,749 1185.8,750.7 1200.8,750 1215.3,748.3 1229.9,745.7 1244.9,745.7 1259.5,745.7 1274.5,745.7 1289,743.7 1304,740.7 1319,738.7 1334,737.3 1349.6,733.7 1364.2,731 1379.2,729.3 1394.2,721.7 1408.8,714.3 1423.8,711.7 1438.3,708 1453.3,705.7 1468.4,705.7 1483.4,705.7"/>
<ellipse cx="680.3" cy="761.8" rx="60" ry="21" fill="rgba(243,156,60,0.5)" stroke="#f39c32" stroke-width="1.2"/>

<!-- indicator labels -->
<g fill="#9a9a9a">
<rect x="6" y="529.5" width="9" height="2"/><rect x="6" y="532.5" width="9" height="2"/><rect x="6" y="535.5" width="9" height="2"/>
<rect x="6" y="675.5" width="9" height="2"/><rect x="6" y="678.5" width="9" height="2"/><rect x="6" y="681.5" width="9" height="2"/>
<rect x="6" y="769" width="9" height="2"/><rect x="6" y="772" width="9" height="2"/><rect x="6" y="775" width="9" height="2"/>
</g>
<g stroke="#9a9a9a" stroke-width="2">
<line x1="20.5" y1="529.5" x2="27" y2="537"/><line x1="27" y1="529.5" x2="20.5" y2="537"/>
<line x1="20.5" y1="675.5" x2="27" y2="683"/><line x1="27" y1="675.5" x2="20.5" y2="683"/>
<line x1="20.5" y1="769" x2="27" y2="776.5"/><line x1="27" y1="769" x2="20.5" y2="776.5"/>
</g>
<text x="31" y="540" font-size="11.5" fill="#555" textLength="188" lengthAdjust="spacingAndGlyphs" style="white-space:pre">Bollinger  [20, 2] 927.35,  917.77,  908.19</text>
<text x="31" y="686" font-size="11.5" fill="#555" textLength="60" lengthAdjust="spacingAndGlyphs" style="white-space:pre">RSI [14]  63.4</text>
<text x="31" y="779.5" font-size="11.5" fill="#555" textLength="165" lengthAdjust="spacingAndGlyphs" style="white-space:pre">MACD [12, 26, 9] 2.73965,  1.92769</text>

<!-- timer -->
<text y="531.5" font-size="15.5"><tspan x="1476" fill="#f7931e">03</tspan><tspan x="1491" fill="#b8b8b8">M</tspan><tspan x="1510" fill="#f7931e">06</tspan><tspan x="1525" fill="#b8b8b8">seg</tspan></text>

<!-- price axis labels -->
<g class="ax">
<text x="1557" y="59.8" textLength="38" lengthAdjust="spacingAndGlyphs">930.70</text>
<text x="1557" y="97.2" textLength="38" lengthAdjust="spacingAndGlyphs">928.64</text>
<text x="1557" y="135.2" textLength="38" lengthAdjust="spacingAndGlyphs">926.58</text>
<text x="1557" y="172.8" textLength="38" lengthAdjust="spacingAndGlyphs">924.52</text>
<text x="1557" y="210.8" textLength="38" lengthAdjust="spacingAndGlyphs">922.46</text>
<text x="1557" y="248.5" textLength="38" lengthAdjust="spacingAndGlyphs">920.40</text>
<text x="1557" y="286.2" textLength="38" lengthAdjust="spacingAndGlyphs">918.34</text>
<text x="1557" y="324" textLength="38" lengthAdjust="spacingAndGlyphs">916.28</text>
<text x="1557" y="361.8" textLength="38" lengthAdjust="spacingAndGlyphs">914.22</text>
<text x="1557" y="399.5" textLength="38" lengthAdjust="spacingAndGlyphs">912.16</text>
<text x="1557" y="437.2" textLength="38" lengthAdjust="spacingAndGlyphs">910.10</text>
<text x="1557" y="475.2" textLength="38" lengthAdjust="spacingAndGlyphs">908.04</text>
<text x="1557" y="512.8" textLength="38" lengthAdjust="spacingAndGlyphs">905.98</text>
<text x="1557" y="545" textLength="38" lengthAdjust="spacingAndGlyphs">903.92</text>
<text x="1557" y="595.2" textLength="24" lengthAdjust="spacingAndGlyphs">70.0</text>
<text x="1557" y="652.8" textLength="24" lengthAdjust="spacingAndGlyphs">30.0</text>
<text x="1557" y="703.5" textLength="44" lengthAdjust="spacingAndGlyphs">3.93696</text>
<text x="1557" y="726.2" textLength="44" lengthAdjust="spacingAndGlyphs">1.31232</text>
<text x="1557" y="756.8" textLength="48" lengthAdjust="spacingAndGlyphs">-1.31232</text>
<text x="1557" y="782.2" textLength="48" lengthAdjust="spacingAndGlyphs">-3.93696</text>
</g>

<!-- level tags -->
<g font-size="12" fill="#fff">
<rect x="1508" y="81.7" width="42" height="15" fill="#263035"/>
<text x="1511" y="93.5" fill="#fff" textLength="36" lengthAdjust="spacingAndGlyphs">928.93</text>
<rect x="1508" y="126.5" width="42" height="15" fill="#263035"/>
<text x="1511" y="138.3" fill="#fff" textLength="36" lengthAdjust="spacingAndGlyphs">926.48</text>
<rect x="1508" y="412.5" width="42" height="15" fill="#263035"/>
<text x="1511" y="424.3" fill="#fff" textLength="36" lengthAdjust="spacingAndGlyphs">910.86</text>
<rect x="1508" y="487.5" width="42" height="15" fill="#263035"/>
<text x="1511" y="499.3" fill="#fff" textLength="36" lengthAdjust="spacingAndGlyphs">906.76</text>
<rect x="1520" y="584.5" width="30" height="14.5" fill="#12a874"/>
<text x="1524" y="595.8" fill="#fff" textLength="23" lengthAdjust="spacingAndGlyphs">70.0</text>
<rect x="1520" y="642" width="30" height="14.5" fill="#e53935"/>
<text x="1524" y="653.3" fill="#fff" textLength="23" lengthAdjust="spacingAndGlyphs">30.0</text>
</g>
<polygon points="1546,191.5 1556,183.3 1606,183.3 1606,200 1556,200" fill="#8c9497"/>
<text x="1558" y="196.5" font-size="13" fill="#fff" textLength="37" lengthAdjust="spacingAndGlyphs">923.33</text>

<!-- time axis -->
<g class="ax">
<text x="10" y="795.5" textLength="60" lengthAdjust="spacingAndGlyphs">19.03.2026</text>
<text x="79" y="795.5" textLength="29" lengthAdjust="spacingAndGlyphs">11:30</text>
<text x="144" y="795.5" textLength="29" lengthAdjust="spacingAndGlyphs">08:30</text>
<text x="278" y="795.5" textLength="29" lengthAdjust="spacingAndGlyphs">10:45</text>
<text x="412" y="795.5" textLength="29" lengthAdjust="spacingAndGlyphs">13:00</text>
<text x="546" y="795.5" textLength="29" lengthAdjust="spacingAndGlyphs">10:00</text>
<text x="680" y="795.5" textLength="29" lengthAdjust="spacingAndGlyphs">12:15</text>
<text x="814" y="795.5" textLength="29" lengthAdjust="spacingAndGlyphs">09:15</text>
<text x="948" y="795.5" textLength="29" lengthAdjust="spacingAndGlyphs">11:30</text>
<text x="1082" y="795.5" textLength="29" lengthAdjust="spacingAndGlyphs">08:30</text>
<text x="1216" y="795.5" textLength="29" lengthAdjust="spacingAndGlyphs">10:45</text>
<text x="1350" y="795.5" textLength="29" lengthAdjust="spacingAndGlyphs">13:00</text>
<text x="1484" y="795.5" textLength="29" lengthAdjust="spacingAndGlyphs">10:00</text>
</g>
</svg>
</body></html>
